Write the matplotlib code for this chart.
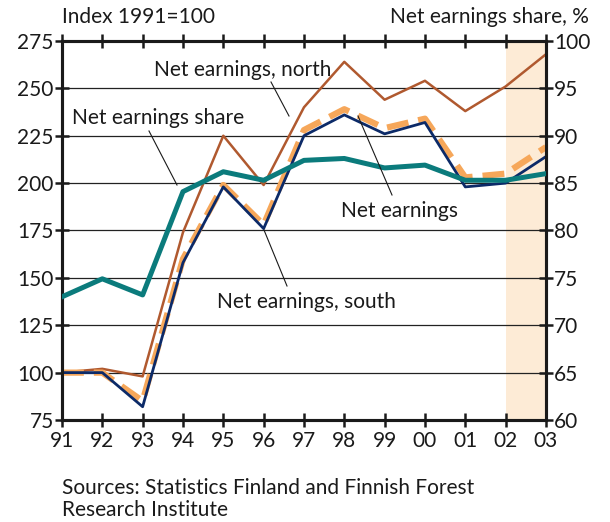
import matplotlib.pyplot as plt

# Data
years = ["91", "92", "93", "94", "95", "96", "97", "98", "99", "00", "01", "02", "03"]
net_north = [100, 102, 98, 174, 225, 199, 240, 264, 244, 254, 238, 251, 268]
net_earnings = [100, 100, 85, 160, 199, 178, 228, 239, 229, 234, 203, 205, 219]
net_south = [100, 100, 82, 158, 198, 176, 225, 236, 226, 232, 198, 200, 214]
share = [73.0, 74.9, 73.2, 84.1, 86.2, 85.3, 87.4, 87.6, 86.6, 86.9, 85.3, 85.3, 86.0]

plt.rcParams['font.family'] = ['Lato', 'DejaVu Sans']
FS = 15

fig = plt.figure(figsize=(6.1, 5.22), dpi=100)
ax = fig.add_axes([0.1016, 0.1954, 0.7934, 0.7261])
x = list(range(len(years)))

# forecast shading
ax.axvspan(x[-2], x[-1], color="#fdebd6", zorder=0, lw=0)

for v in range(100, 275, 25):
    ax.axhline(v, color="#222222", lw=0.9, zorder=1)

ax.plot(x, net_north, color="#b0592f", lw=1.8, zorder=3)
ax.plot(x, net_earnings, color="#f6a75a", lw=4.5, dashes=(3.5, 1.6), zorder=4)
ax.plot(x, net_south, color="#0c2a68", lw=2.0, zorder=5)

ax2 = ax.twinx()
ax2.plot(x, share, color="#0b7b7c", lw=3.6, zorder=6)
ax2.set_ylim(60, 100)
ax2.set_yticks(range(60, 101, 5))

ax.set_xlim(0, len(years) - 1)
ax.set_ylim(75, 275)
ax.set_yticks(range(75, 276, 25))
ax.set_xticks(x)
ax.set_xticklabels(years)

for a in (ax, ax2):
    for s in a.spines.values():
        s.set_linewidth(2.2)
        s.set_color("#1a1a1a")
    a.tick_params(axis="both", direction="inout", length=10, width=1.8,
                  labelsize=FS, colors="#1a1a1a", pad=1)
ax.tick_params(axis="x", top=True, pad=3)
ax.tick_params(axis="y", labelleft=True)
ax2.tick_params(axis="y", labelright=True)

# annotations
def label(text, tx, ty, x0, y0, x1, y1):
    fig.text(tx / 610, 1 - ty / 522, text, fontsize=FS, color="#1a1a1a",
             va="center", ha="left")
    fig.add_artist(plt.Line2D([x0 / 610, x1 / 610], [1 - y0 / 522, 1 - y1 / 522],
                              color="#1a1a1a", lw=0.8))

label("Net earnings, north", 154, 70, 271, 82, 289, 116)
label("Net earnings share", 72, 118, 149, 131, 177, 185)
label("Net earnings", 341, 211, 392, 195, 358, 116)
label("Net earnings, south", 217, 302, 287, 286, 264, 230)

fig.text(62 / 610, 1 - 17 / 522, "Index 1991=100", fontsize=FS, va="center", ha="left", color="#1a1a1a")
fig.text(589 / 610, 1 - 17 / 522, "Net earnings share, %", fontsize=FS, va="center", ha="right", color="#1a1a1a")
fig.text(62 / 610, 1 - 488 / 522, "Sources: Statistics Finland and Finnish Forest", fontsize=FS,
         va="center", ha="left", color="#1a1a1a")
fig.text(62 / 610, 1 - 510 / 522, "Research Institute", fontsize=FS, va="center", ha="left", color="#1a1a1a")

fig.savefig("out.png", dpi=100)
